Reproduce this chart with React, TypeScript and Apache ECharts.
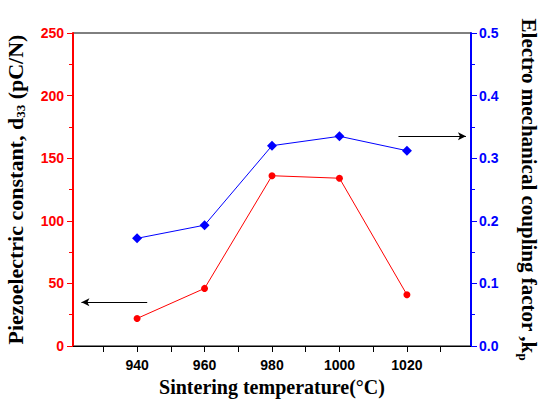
import React, { useEffect, useRef } from "react";
import * as echarts from "echarts";

const temperatures = [940, 960, 980, 1000, 1020];
const d33Values = [22, 46, 136, 134, 41];
const kpValues = [0.172, 0.193, 0.32, 0.335, 0.312];
const xLabelValues = [940, 960, 980, 1000, 1020];
const xTickValues = [930, 940, 950, 960, 970, 980, 990, 1000, 1010, 1020, 1030];
// arrow annotations in data coordinates
const leftArrow = [[943, 35], [923.5, 35]];
const rightArrow = [[1017.5, 0.335], [1037.5, 0.335]];

const serif = "'Liberation Serif', 'Times New Roman', serif";
const sans = "'Liberation Sans', Arial, sans-serif";

export default function App() {
  const ref = useRef<HTMLDivElement>(null);
  useEffect(() => {
    if (!ref.current) return;
    const chart = echarts.init(ref.current, null, { renderer: "svg" });
    const sub = { fontFamily: serif, fontWeight: "bold", fontSize: 13, color: "#000", verticalAlign: "bottom", padding: [10, 0, 0, 0] };
    chart.setOption({
      animation: false,
      backgroundColor: "#ffffff",
      grid: {
        left: 73, right: 70, top: 33, bottom: 55, show: true, borderColor: "#000", borderWidth: 1,
        outerBoundsMode: "none", containLabel: false,
      },
      xAxis: {
        type: "value",
        min: 921,
        max: 1039,
        name: "Sintering temperature(°C)",
        nameLocation: "middle",
        nameGap: 25,
        nameTextStyle: { fontFamily: serif, fontWeight: "bold", fontSize: 20, color: "#000" },
        axisLine: { show: true, lineStyle: { color: "#000", width: 1 } },
        axisTick: { show: true, length: 6, customValues: xTickValues, lineStyle: { color: "#000" } },
        axisLabel: {
          customValues: xLabelValues, fontFamily: sans, fontWeight: "bold", fontSize: 14, color: "#000", margin: 12,
          formatter: (v: number) => String(v),
        },
        splitLine: { show: false },
      },
      yAxis: [
        {
          type: "value",
          min: 0,
          max: 250,
          interval: 50,
          position: "left",
          name: "Piezoelectric constant, d{sub|33} (pC/N)",
          nameLocation: "middle",
          nameGap: 46,
          nameRotate: 90,
          nameTextStyle: { fontFamily: serif, fontWeight: "bold", fontSize: 22, color: "#000", rich: { sub } },
          axisLine: { show: true, lineStyle: { color: "#ff0000", width: 2 } },
          axisTick: { show: true, length: 6, lineStyle: { color: "#ff0000" } },
          minorTick: { show: true, splitNumber: 2, length: 4, lineStyle: { color: "#ff0000" } },
          axisLabel: { fontFamily: sans, fontWeight: "bold", fontSize: 14, color: "#ff0000", margin: 9 },
          splitLine: { show: false },
        },
        {
          type: "value",
          min: 0,
          max: 0.5,
          interval: 0.1,
          position: "right",
          name: "Electro mechanical coupling factor ,k{sub|p}",
          nameLocation: "middle",
          nameGap: 46,
          nameRotate: -90,
          nameTextStyle: { fontFamily: serif, fontWeight: "bold", fontSize: 21, color: "#000", rich: { sub } },
          axisLine: { show: true, lineStyle: { color: "#0000ff", width: 2 } },
          axisTick: { show: true, length: 6, lineStyle: { color: "#0000ff" } },
          minorTick: { show: true, splitNumber: 2, length: 4, lineStyle: { color: "#0000ff" } },
          axisLabel: {
            fontFamily: sans, fontWeight: "bold", fontSize: 14, color: "#0000ff", margin: 8,
            formatter: (v: number) => v.toFixed(1),
          },
          splitLine: { show: false },
        },
      ],
      series: [
        {
          type: "line",
          yAxisIndex: 0,
          data: temperatures.map((t, i) => [t, d33Values[i]]),
          symbol: "circle",
          symbolSize: 7,
          itemStyle: { color: "#ff0000" },
          lineStyle: { color: "#ff0000", width: 1 },
          markLine: {
            silent: true,
            symbol: ["none", "arrow"],
            symbolSize: [6, 8],
            label: { show: false },
            lineStyle: { color: "#000", width: 1, type: "solid" },
            data: [[{ coord: leftArrow[0] }, { coord: leftArrow[1] }]],
          },
        },
        {
          type: "line",
          yAxisIndex: 1,
          data: temperatures.map((t, i) => [t, kpValues[i]]),
          symbol: "diamond",
          symbolSize: 10,
          itemStyle: { color: "#0000ff" },
          lineStyle: { color: "#0000ff", width: 1 },
          markLine: {
            silent: true,
            symbol: ["none", "arrow"],
            symbolSize: [6, 8],
            label: { show: false },
            lineStyle: { color: "#000", width: 1, type: "solid" },
            data: [[{ coord: rightArrow[0] }, { coord: rightArrow[1] }]],
          },
        },
      ],
    });
    return () => chart.dispose();
  }, []);
  return <div ref={ref} style={{ position: "fixed", left: 0, top: 0, width: 541, height: 401 }} />;
}
